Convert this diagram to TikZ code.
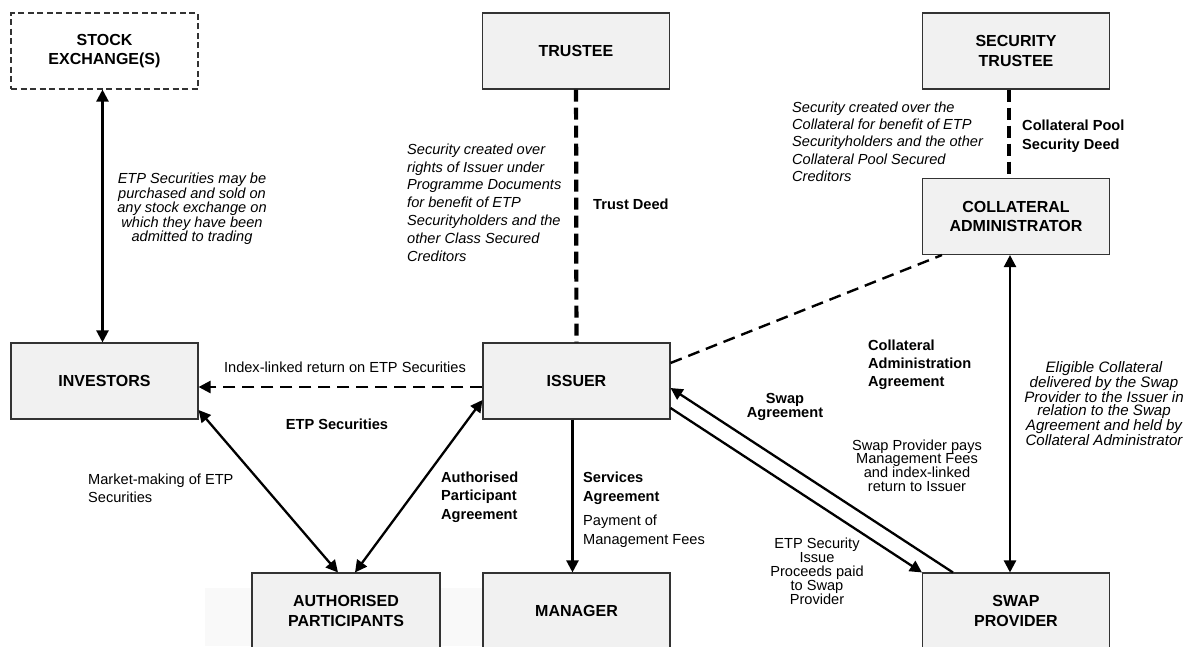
\documentclass[tikz,border=0pt]{standalone}
\usepackage{fontspec}
\setmainfont{Liberation Sans}
\usetikzlibrary{arrows.meta}

\tikzset{
  party/.style={draw=black!80, line width=1.1pt, fill=gray!11, minimum width=187pt,
    minimum height=76pt, align=center, inner sep=0pt,
    font=\fontsize{16}{19.5}\selectfont\bfseries},
  lbl/.style={inner sep=0pt, font=\fontsize{14.6}{#1}\selectfont},
  lbl/.default=18,
  lblbold/.style={inner sep=0pt, font=\fontsize{14.6}{#1}\selectfont\bfseries},
  lblbold/.default=18,
  lblital/.style={inner sep=0pt, font=\fontsize{14.6}{#1}\selectfont\itshape},
  lblital/.default=18,
  link/.style={line width=2.3pt, >={Triangle[length=12pt,width=12pt]}},
  deed/.style={line width=4.2pt, dash pattern=on 12pt off 6pt},
  agreement/.style={line width=2.4pt, dash pattern=on 12pt off 7pt}
}

\begin{document}
\begin{tikzpicture}[x=1pt, y=-1pt]
  \useasboundingbox (0,0) rectangle (1187,646);
  \fill[gray!5] (205,588) rectangle (500,646);

  % parties
  \node[party, fill=white, dash pattern=on 6pt off 3.5pt] (exchange) at (104.5,51) {STOCK\\EXCHANGE(S)};
  \node[party] (trustee) at (576,51) {TRUSTEE};
  \node[party] (sectrustee) at (1016,51) {SECURITY\\TRUSTEE};
  \node[party] (coladmin) at (1016,216.5) {COLLATERAL\\ADMINISTRATOR};
  \node[party] (investors) at (104.5,381) {INVESTORS};
  \node[party] (issuer) at (576.5,381) {ISSUER};
  \node[party, minimum width=188pt] (authpart) at (346,611) {AUTHORISED\\PARTICIPANTS};
  \node[party] (manager) at (576.5,611) {MANAGER};
  \node[party] (swapprov) at (1016,611) {SWAP\\PROVIDER};

  % connectors
  \begin{scope}[link]
    \draw[<->] ([xshift=-2pt]exchange.south) to ([xshift=-2pt]investors.north);
    \draw[deed] (trustee) to (issuer);
    \draw[deed] ([xshift=-7pt]sectrustee.south) to ([xshift=-7pt]coladmin.north);
    \draw[agreement, ->] ([yshift=-6pt]issuer.west) to ([yshift=-6pt]investors.east);
    \draw[<->] ([yshift=-29pt]investors.east) to ([xshift=-8pt]authpart.north);
    \draw[<->] ([yshift=-19pt]issuer.west) to ([xshift=9pt]authpart.north);
    \draw[->] ([xshift=-4pt]issuer.south) to ([xshift=-4pt]manager.north);
    \draw[agreement] ([yshift=18pt]issuer.east) to ([xshift=20pt]coladmin.south west);
    \draw[->] ([xshift=31pt]swapprov.north west) to ([yshift=-7pt]issuer.east);
    \draw[->] ([yshift=-27pt]issuer.east) to (swapprov.north west);
    \draw[<->] ([xshift=-6pt]coladmin.south) to ([xshift=-6pt]swapprov.north);
  \end{scope}

  % labels
  \node[lblital=14.4, align=center] (exchnote) at (192,209) {ETP Securities may be\\purchased and sold on\\any stock exchange on\\which they have been\\admitted to trading};
  \node[lblital=17.8, align=left, anchor=west] (trustnote) at (407,202.5) {Security created over\\rights of Issuer under\\Programme Documents\\for benefit of ETP\\Securityholders and the\\other Class Secured\\Creditors};
  \node[lblbold, anchor=west] (trustdeed) at (593,204) {Trust Deed};
  \node[lblital=17.4, align=left, anchor=west] (secnote) at (792,141.6) {Security created over the\\Collateral for benefit of ETP\\Securityholders and the other\\Collateral Pool Secured\\Creditors};
  \node[lblbold=19, align=left, anchor=west] (pooldeed) at (1022,136.5) {Collateral Pool\\Security Deed};
  \node[lbl] (returnnote) at (345,367) {Index-linked return on ETP Securities};
  \node[lblbold] (etpsec) at (337,424) {ETP Securities};
  \node[lbl, align=left, anchor=west] (mktnote) at (88,488) {Market-making of ETP\\Securities};
  \node[lblbold=18.5, align=left, anchor=west] (apagree) at (441,497) {Authorised\\Participant\\Agreement};
  \node[lblbold=19, align=left, anchor=west] (servagree) at (583,488.5) {Services\\Agreement};
  \node[lbl=19, align=left, anchor=west] (feenote) at (583,531.5) {Payment of\\Management Fees};
  \node[lblbold, align=left, anchor=west] (colagree) at (868,365) {Collateral\\Administration\\Agreement};
  \node[lblbold=14, align=center] (swapagree) at (785,407) {Swap\\Agreement};
  \node[lbl=13.7, align=center] (paysnote) at (917,465.5) {Swap Provider pays\\Management Fees\\and index-linked\\return to Issuer};
  \node[lbl=14, align=center] (proceeds) at (817,571) {ETP Security\\Issue\\Proceeds paid\\to Swap\\Provider};
  \node[inner sep=0pt, align=center, font=\fontsize{15.1}{13.4}\selectfont\itshape] (eligible) at (1104,403.5) {Eligible Collateral\\delivered by the Swap\\Provider to the Issuer in\\relation to the Swap\\Agreement and held by\\Collateral Administrator};
\end{tikzpicture}
\end{document}
